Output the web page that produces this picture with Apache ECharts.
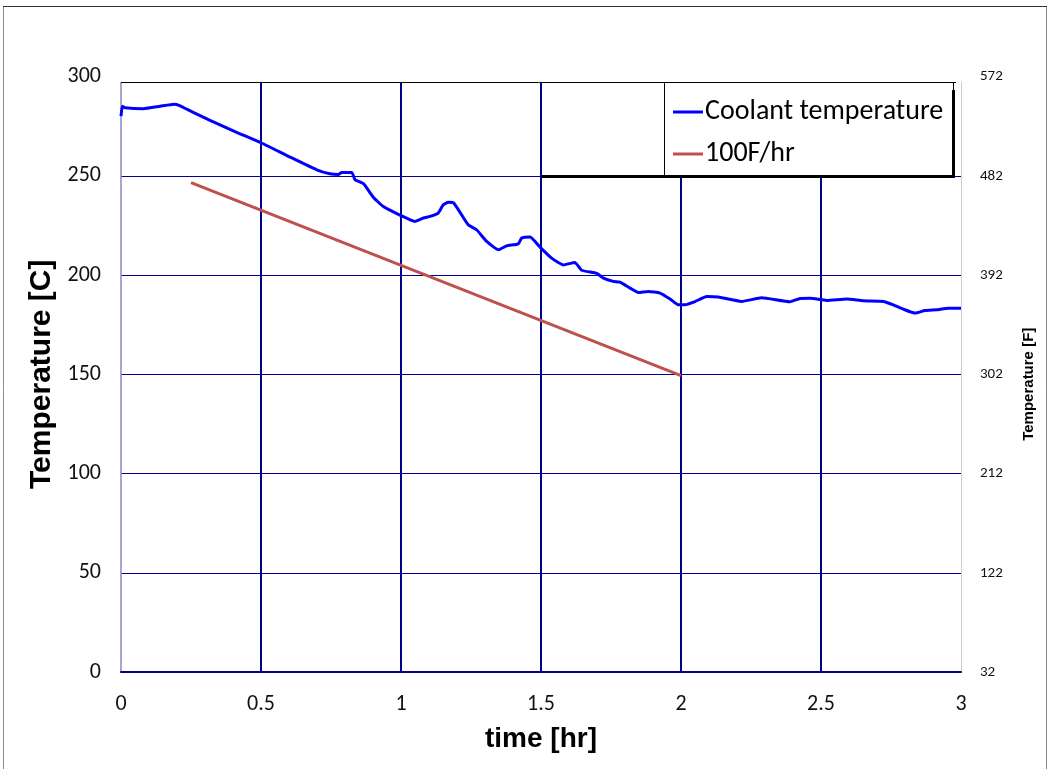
<!DOCTYPE html>
<html>
<head>
<meta charset="utf-8">
<script src="https://cdn.jsdelivr.net/npm/echarts@6/dist/echarts.min.js"></script>
<style>
  html, body { margin: 0; padding: 0; background: #fff; }
  #chart { width: 1050px; height: 769px; }
</style>
</head>
<body>
<div id="chart"></div>
<script>
// Coolant temperature during cooldown (time in hours, temperature in C)
const coolantTime = [0, 0.005, 0.014, 0.08, 0.14, 0.19, 0.205, 0.258, 0.318, 0.413, 0.502, 0.604, 0.699,
  0.746, 0.776, 0.788, 0.824, 0.836, 0.866, 0.901, 0.937, 0.996, 1.05, 1.08, 1.104, 1.133, 1.151, 1.169,
  1.189, 1.24, 1.27, 1.306, 1.348, 1.377, 1.419, 1.431, 1.461, 1.496, 1.538, 1.58, 1.621, 1.645, 1.699,
  1.723, 1.758, 1.782, 1.818, 1.848, 1.884, 1.925, 1.961, 1.99, 2.014, 2.05, 2.092, 2.133, 2.217, 2.288,
  2.389, 2.425, 2.461, 2.52, 2.592, 2.651, 2.723, 2.758, 2.794, 2.836, 2.871, 2.913, 2.955, 3.0];
const coolantTemp = [280, 285, 284.3, 283.8, 285, 286, 285.6, 281.9, 277.9, 271.9, 266.5, 259.4, 253,
  251, 250.6, 251.7, 251.7, 248, 246, 239.2, 234.5, 230.2, 227, 228.7, 229.5, 231.2, 235.4, 236.6,
  236.2, 225.3, 222.8, 216.9, 212.7, 214.7, 215.7, 218.6, 219.1, 214.1, 208.5, 205.1, 206.3, 202.4, 200.8,
  198.4, 196.8, 196.4, 193.4, 191.2, 191.7, 190.9, 187.9, 185, 185, 186.6, 189.2, 188.9, 186.7, 188.5,
  186.5, 188.2, 188.3, 187.2, 187.9, 187, 186.7, 185, 182.8, 180.8, 182.1, 182.5, 183.3, 183.3];

// Reference cooldown rate of 100 F/hr
const rateTime = [0.25, 2.0];
const rateTemp = [246.5, 149.3];

const seriesNames = ['Coolant temperature', '100F/hr'];
const xTicks = { min: 0, max: 3, interval: 0.5 };
const yTicksC = { min: 0, max: 300, interval: 50 };
const yTicksF = { min: 32, max: 572, interval: 90 };

const zip = (xs, ys) => xs.map((x, i) => [x, ys[i]]);

const GRID = { left: 121, right: 89, top: 76.5, bottom: 97 };
const NAVY = '#00008c';
const labelFont = "Carlito, 'Open Sans', sans-serif";
const titleFont = "'Liberation Sans', Arial, sans-serif";

const chart = echarts.init(document.getElementById('chart'), null, { renderer: 'canvas' });

chart.setOption({
  backgroundColor: '#ffffff',
  animation: false,
  grid: { left: GRID.left, right: GRID.right, top: GRID.top, bottom: GRID.bottom, containLabel: false },
  legend: {
    data: seriesNames,
    orient: 'vertical',
    left: 664,
    top: 82,
    padding: [16, 9, 6, 9],
    itemGap: 14,
    itemWidth: 30,
    itemHeight: 3,
    icon: 'rect',
    z: 20,
    textStyle: { fontFamily: labelFont, fontSize: 28, color: '#000', padding: [0, 0, 0, -3] }
  },
  xAxis: {
    type: 'value',
    min: xTicks.min, max: xTicks.max, interval: xTicks.interval,
    name: 'time [hr]',
    nameLocation: 'middle',
    nameGap: 53,
    nameTextStyle: { fontFamily: titleFont, fontWeight: 'bold', fontSize: 28, color: '#000' },
    axisLine: { show: true, lineStyle: { color: NAVY, width: 2 } },
    axisTick: { show: false },
    axisLabel: { margin: 21, fontFamily: labelFont, fontSize: 22, color: '#111' },
    splitLine: { show: true, showMinLine: false, showMaxLine: false, lineStyle: { color: NAVY, width: 2 } }
  },
  yAxis: [
    {
      type: 'value',
      min: yTicksC.min, max: yTicksC.max, interval: yTicksC.interval,
      name: 'Temperature [C]',
      nameLocation: 'middle',
      nameGap: 63,
      nameTextStyle: { fontFamily: titleFont, fontWeight: 'bold', fontSize: 30, color: '#000' },
      axisLine: { show: true, lineStyle: { color: '#8a8ac4', width: 1.5 } },
      axisTick: { show: false },
      axisLabel: { margin: 20, fontFamily: labelFont, fontSize: 22, color: '#111' },
      splitLine: { show: true, showMaxLine: false, lineStyle: { color: '#000099', width: 1 } }
    },
    {
      type: 'value',
      position: 'right',
      min: yTicksF.min, max: yTicksF.max, interval: yTicksF.interval,
      name: 'Temperature [F]',
      nameLocation: 'middle',
      nameGap: 60,
      nameTextStyle: { fontFamily: titleFont, fontWeight: 'bold', fontSize: 15, color: '#000', padding: [0, 20, 0, 0] },
      axisLine: { show: true, lineStyle: { color: '#c4c4c4', width: 1, type: 'dotted' } },
      axisTick: { show: false },
      axisLabel: { margin: 19, fontFamily: labelFont, fontSize: 15, color: '#111' },
      splitLine: { show: false }
    }
  ],
  series: [
    {
      name: seriesNames[0],
      type: 'line',
      yAxisIndex: 0,
      data: zip(coolantTime, coolantTemp),
      showSymbol: false,
      smooth: 0.15,
      itemStyle: { color: '#0000ff' },
      lineStyle: { color: '#0000ff', width: 3 },
      z: 5
    },
    {
      name: seriesNames[1],
      type: 'line',
      yAxisIndex: 0,
      data: zip(rateTime, rateTemp),
      showSymbol: false,
      itemStyle: { color: '#c0504d' },
      lineStyle: { color: '#c0504d', width: 3 },
      z: 4
    }
  ],
  graphic: [
    // outer frame
    { type: 'rect', z: 0, silent: true,
      shape: { x: 3.5, y: 6.5, width: 1043, height: 775 },
      style: { fill: null, stroke: '#8c8c8c', lineWidth: 1 } },
    { type: 'line', z: 0, silent: true,
      shape: { x1: 3, y1: 6.5, x2: 1047, y2: 6.5 },
      style: { stroke: '#333', lineWidth: 1 } },
    // top edge of the plot frame
    { type: 'rect', z: 50, silent: true,
      shape: { x: 118, y: 70, width: 846, height: 12 },
      style: { fill: '#ffffff' } },
    { type: 'line', z: 51, silent: true,
      shape: { x1: 121, y1: 82.5, x2: 956, y2: 82.5 },
      style: { stroke: '#000', lineWidth: 1 } },
    // legend box with its shadow
    { type: 'rect', z: 15, silent: true,
      shape: { x: 664.5, y: 82.5, width: 289, height: 93 },
      style: { fill: '#ffffff', stroke: '#000', lineWidth: 1 } },
    { type: 'rect', z: 16, silent: true,
      shape: { x: 952, y: 90, width: 3, height: 88 },
      style: { fill: '#000' } },
    { type: 'rect', z: 16, silent: true,
      shape: { x: 541, y: 175, width: 414, height: 3 },
      style: { fill: '#000' } }
  ]
});
</script>
</body>
</html>
